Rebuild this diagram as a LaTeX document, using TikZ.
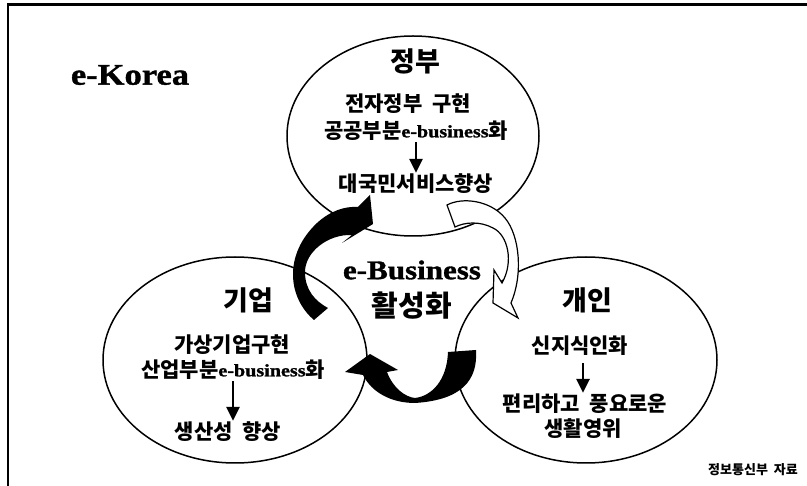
\documentclass[tikz,border=0pt]{standalone}
\usepackage{fontspec}
\setmainfont{Liberation Serif}
\newfontfamily\krfont[WordSpace=2]{Noto Sans CJK KR}
\newfontfamily\latfont[FakeStretch=1.15,BoldFeatures={FakeBold=1.2}]{Liberation Serif}
\usetikzlibrary{arrows.meta, shapes.geometric}
\newcommand{\ebiz}{\raisebox{1.5pt}{\latfont\bfseries\fontsize{17.5}{20}\selectfont e-business}}

\begin{document}
\begin{tikzpicture}[x=1pt,y=-1pt,inner sep=1pt]
  \tikzstyle{sector}=[ellipse,draw,line width=1.5pt,inner sep=0pt]
  \tikzstyle{sectorhead}=[font={\krfont\bfseries\fontsize{27}{30}\selectfont}]
  \tikzstyle{sectorline}=[font={\krfont\bfseries\fontsize{21}{24}\selectfont}]
  \tikzstyle{dnarrow}=[-{Triangle[width=13pt,length=14pt]},line width=2.8pt]
  \tikzstyle{swirl}=[fill=black]

  \useasboundingbox (0,0) rectangle (807,486);
  \draw[line width=3pt] (7,5) -- (807,5);
  \draw[line width=2pt] (8,5) -- (8,486);

  \node[font={\latfont\bfseries\fontsize{30}{34}\selectfont}] (ekorea) at (130,75) {e-Korea};

  \node[sector,minimum width=252pt,minimum height=200pt] (gov) at (413,136) {};
  \node[sector,minimum width=264pt,minimum height=206pt] (biz) at (235,360) {};
  \node[sector,minimum width=262pt,minimum height=206pt] (ind) at (586,360) {};

  % circulating arrows
  \fill[swirl] (328,308) -- (314,320) .. controls (288,298) and (283,255) .. (317,223)
    .. controls (330,211) and (345,206) .. (358,207) -- (370,195) -- (373,224) -- (342,243)
    -- (352,235) .. controls (328,234) and (305,252) .. (305,272)
    .. controls (305,290) and (315,301) .. (328,308) -- cycle;
  \filldraw[fill=white,line width=1.2pt] (455,227) -- (447,205) .. controls (462,197) and (490,200) .. (505,218)
    .. controls (520,236) and (523,275) .. (511,303) -- (518,318) -- (493,303) -- (494,270)
    -- (502,283) .. controls (514,262) and (508,235) .. (493,228)
    .. controls (480,221) and (465,222) .. (455,227) -- cycle;
  \fill[swirl] (448,352) -- (476,350) .. controls (478,380) and (462,400) .. (415,403)
    .. controls (392,403) and (372,393) .. (363,375) -- (345,372) -- (370,354) -- (398,370)
    -- (387,372) .. controls (393,388) and (405,397) .. (415,398)
    .. controls (432,396) and (447,380) .. (448,352) -- cycle;

  \node[sectorhead] (govT) at (415,61) {정부};
  \node[sectorline] (gov1) at (408,104) {전자정부 구현};
  \node[sectorline] (gov2) at (416,131) {공공부분\ebiz 화};
  \node[sectorline] (gov3) at (416,184) {대국민서비스향상};
  \draw[dnarrow] (gov2) -- (gov2 |- gov3.north);

  \node[sectorhead] (bizT) at (248,300) {기업};
  \node[sectorline] (biz1) at (232,345) {가상기업구현};
  \node[sectorline] (biz2) at (233,370) {산업부분\ebiz 화};
  \node[sectorline] (biz3) at (228,432) {생산성 향상};
  \draw[dnarrow] (biz2) -- (biz2 |- biz3.north);

  \node[sectorhead] (indT) at (587,300) {개인};
  \node[sectorline] (ind1) at (580,346) {신지식인화};
  \node[sectorline] (ind2) at (585,404) {편리하고 풍요로운};
  \node[sectorline] (ind3) at (583,429) {생활영위};
  \draw[dnarrow,shorten <=6pt] (ind1.south -| 583,0) -- (ind2.north -| 583,0);

  \node[font={\latfont\bfseries\fontsize{27}{30}\selectfont}] (core) at (412,270) {e-Business};
  \node[sectorhead,font={\krfont\bfseries\fontsize{29}{32}\selectfont}] (coreK) at (412,306) {활성화};

  \node[font={\krfont\bfseries\fontsize{13}{15}\selectfont}] (src) at (753,470) {정보통신부 자료};
\end{tikzpicture}
\end{document}
